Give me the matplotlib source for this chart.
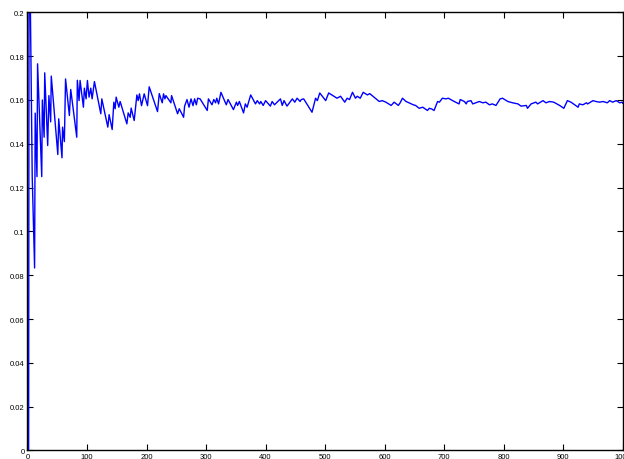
import matplotlib.pyplot as plt
from matplotlib.ticker import FormatStrFormatter

# vertices (trial number, running proportion)
trials = [1, 2, 3, 5, 8, 12, 13, 16, 17, 24, 25, 28, 29, 34, 36, 39, 40, 51, 52.5, 58, 59, 62, 64,
          70.4, 72.7, 82.8, 83.8, 86.7, 88.4, 94, 95.6, 98.5, 100.7, 103.5, 106.4, 108.6, 112.5,
          123.2, 124.9, 135, 137.2, 142.3, 145.1, 147.3, 149, 153.5, 155.7, 167, 169.2, 172.6,
          174.2, 179.3, 183.8, 186, 188.2, 191.6, 196.1, 201.7, 204.5, 218.5, 221.4, 226.4, 228.6,
          230.9, 232.6, 241, 242.1, 252.2, 255, 262.3, 264, 268, 271.4, 274.7, 278.1, 280.8,
          283.7, 285.9,
          290, 302, 304, 310, 313, 316, 318, 321, 325, 334, 337, 346, 351, 353, 356, 363, 366, 369,
          375, 383, 386, 390, 392, 396, 400, 408, 411, 415, 425, 428, 431, 436, 445, 449, 453, 458,
          460, 464, 478, 484, 487, 491, 501, 506, 520, 526, 533, 537, 541, 546, 551, 554, 559, 564,
          571, 575, 591, 596, 602, 611, 616, 623, 626, 630, 636, 641,
          648, 652, 658, 664, 672, 675, 679, 683, 689, 692, 697, 703, 707, 717, 725, 727, 734, 737,
          739, 745, 748, 756, 759, 765, 770, 776, 781, 787, 794, 798, 807, 815, 824, 829, 838, 840,
          846, 854, 857, 866, 871, 877, 884, 894, 901, 907, 913, 925, 927, 933, 939, 941, 950, 955,
          961, 967, 974, 978, 983, 989, 995, 999, 1000]
ratio = [0, 0, 0.333, 0.2, 0.125, 0.0833, 0.154, 0.125, 0.1765, 0.125, 0.16, 0.143, 0.1724, 0.1392,
         0.162, 0.150, 0.1709, 0.1351, 0.1514, 0.1336, 0.1476, 0.141, 0.1696,
         0.1529, 0.1648, 0.143, 0.169, 0.1597, 0.1689, 0.1567, 0.1654, 0.1605, 0.1689, 0.1613,
         0.1654, 0.1605, 0.1684, 0.1537, 0.1605, 0.1476, 0.1533, 0.1465, 0.159, 0.156, 0.1613,
         0.1567, 0.1593, 0.1491, 0.1541, 0.1521, 0.1563, 0.1506, 0.1623, 0.1597, 0.1628, 0.1574,
         0.1628, 0.1574, 0.166, 0.1547, 0.1629, 0.1587, 0.1628, 0.1605, 0.162, 0.1587, 0.162,
         0.1537, 0.156, 0.1521, 0.1572, 0.1602, 0.1567, 0.1605, 0.1574, 0.1605, 0.1578, 0.1608,
         0.1605, 0.1552, 0.1605, 0.1578, 0.1602, 0.1587, 0.1608, 0.1582, 0.1635, 0.1578, 0.1602,
         0.1556, 0.1590, 0.1575, 0.1593, 0.1541, 0.1582, 0.1567, 0.1623, 0.1582, 0.1597, 0.1582,
         0.1593, 0.1575, 0.1597, 0.1572, 0.1593, 0.1578, 0.1605, 0.1575, 0.1597, 0.1572, 0.1605,
         0.1590, 0.1608, 0.1593, 0.1602, 0.1605, 0.1544, 0.1608, 0.1597, 0.1632, 0.1597, 0.1632,
         0.1608, 0.1617, 0.1590, 0.1608, 0.1602, 0.1635, 0.1608, 0.1617, 0.1608, 0.1635, 0.1623,
         0.1629, 0.1593, 0.1597, 0.1590, 0.1575, 0.1590, 0.1575, 0.1587, 0.1608, 0.1593, 0.1587,
         0.1578, 0.1575, 0.1562, 0.1567, 0.1552, 0.1562, 0.1559, 0.1552, 0.1593, 0.1590, 0.1608,
         0.1605, 0.1608, 0.1593, 0.1582, 0.1602, 0.1593, 0.1582, 0.1593, 0.1597, 0.1582, 0.1590,
         0.1593, 0.1587, 0.1590, 0.1578, 0.1582, 0.1575, 0.1605, 0.1608, 0.1593, 0.1587, 0.1582,
         0.1572, 0.1575, 0.1562, 0.1582, 0.1590, 0.1582, 0.1597, 0.1587, 0.1593, 0.1590, 0.1575,
         0.1562, 0.1597, 0.1590, 0.1567, 0.1582, 0.1578, 0.1587, 0.1582, 0.1597, 0.1593, 0.1590,
         0.1593, 0.1587, 0.1597, 0.1590, 0.1597, 0.1587, 0.1590, 0.1585]

x_ticks = list(range(0, 1001, 100))
y_ticks = [0, 0.02, 0.04, 0.06, 0.08, 0.1, 0.12, 0.14, 0.16, 0.18, 0.2]

plt.rcParams['font.family'] = ['Liberation Sans', 'DejaVu Sans']

fig = plt.figure(figsize=(6.24, 4.6), dpi=100)
ax = fig.add_axes([0.044, 0.0185, 0.954, 0.9525])
ax.plot(trials, ratio, color='#0000ff', linewidth=1.0)
ax.set_xlim(0, 1000)
ax.set_ylim(0, 0.2)
ax.set_xticks(x_ticks)
ax.set_yticks(y_ticks)
ax.yaxis.set_major_formatter(FormatStrFormatter('%g'))
ax.tick_params(direction='in', top=True, right=True, length=4, width=0.8,
               labelsize=5.5, pad=2)
for s in ax.spines.values():
    s.set_linewidth(1.0)

plt.savefig('out.png')
